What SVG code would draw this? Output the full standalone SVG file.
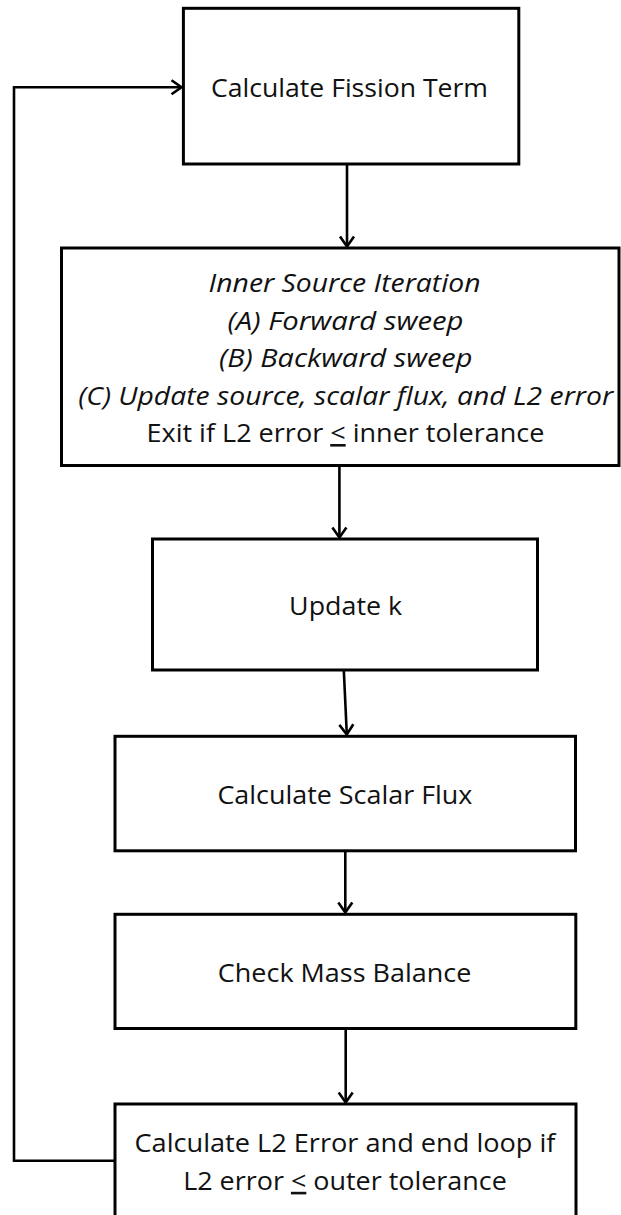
<svg xmlns="http://www.w3.org/2000/svg" width="621" height="1215" viewBox="0 0 621 1215">
  <style>
    .box { fill: #ffffff; stroke: #000000; stroke-width: 3; }
    .label { font-family: "Open Sans", "Noto Sans", sans-serif; font-size: 26px; fill: #111111; text-anchor: middle; }
    .it { font-style: italic; }
    .link { fill: none; stroke: #000000; stroke-width: 2.6; }
    .u { text-decoration: underline; }
  </style>
  <defs>
    <marker id="chevron" markerUnits="userSpaceOnUse" viewBox="0 0 14 18" markerWidth="14" markerHeight="18" refX="12" refY="9" orient="auto">
      <path d="M2,2 L12,9 L2,16" fill="none" stroke="#000000" stroke-width="2.6" stroke-linejoin="miter"/>
    </marker>
  </defs>

  <rect width="621" height="1215" fill="#ffffff"/>

  <!-- connectors -->
  <g id="connectors">
    <path class="link" d="M115,1160.7 H14 V87.3 H181.5" marker-end="url(#chevron)"/>
    <path class="link" d="M347,164 V246.5" marker-end="url(#chevron)"/>
    <path class="link" d="M339.4,465.5 V537.5" marker-end="url(#chevron)"/>
    <path class="link" d="M343.8,670 L346.8,734.5" marker-end="url(#chevron)"/>
    <path class="link" d="M345.3,851 V912.5" marker-end="url(#chevron)"/>
    <path class="link" d="M345.7,1029 V1102.5" marker-end="url(#chevron)"/>
  </g>

  <g id="fission">
    <rect class="box" x="183.4" y="8.3" width="335.4" height="155.7"/>
    <text class="label" x="349.5" y="96.8" textLength="277" lengthAdjust="spacingAndGlyphs">Calculate Fission Term</text>
  </g>

  <g id="inner-iteration">
    <rect class="box" x="61.5" y="248" width="557.5" height="217.5"/>
    <text class="label it" x="344.6" y="292.3" textLength="272" lengthAdjust="spacingAndGlyphs">Inner Source Iteration</text>
    <text class="label it" x="345.5" y="329.6" textLength="236" lengthAdjust="spacingAndGlyphs">(A) Forward sweep</text>
    <text class="label it" x="345.7" y="367" textLength="253.5" lengthAdjust="spacingAndGlyphs">(B) Backward sweep</text>
    <text class="label it" x="345.7" y="404.6" textLength="535" lengthAdjust="spacingAndGlyphs">(C) Update source, scalar flux, and L2 error</text>
    <text class="label" x="345.5" y="442" textLength="398" lengthAdjust="spacingAndGlyphs">Exit if L2 error <tspan class="u">&lt;</tspan> inner tolerance</text>
  </g>

  <g id="update-k">
    <rect class="box" x="152.5" y="539" width="385" height="131"/>
    <text class="label" x="345.6" y="615.3" textLength="113" lengthAdjust="spacingAndGlyphs">Update k</text>
  </g>

  <g id="scalar-flux">
    <rect class="box" x="115" y="736.3" width="460.5" height="114.5"/>
    <text class="label" x="344.9" y="803.6" textLength="255" lengthAdjust="spacingAndGlyphs">Calculate Scalar Flux</text>
  </g>

  <g id="mass-balance">
    <rect class="box" x="115" y="914.3" width="460.8" height="114.2"/>
    <text class="label" x="344.6" y="981.5" textLength="253.5" lengthAdjust="spacingAndGlyphs">Check Mass Balance</text>
  </g>

  <g id="l2-error">
    <rect class="box" x="115" y="1104" width="461" height="120"/>
    <text class="label" x="345" y="1152.3" textLength="421" lengthAdjust="spacingAndGlyphs">Calculate L2 Error and end loop if</text>
    <text class="label" x="345" y="1189.8" textLength="323.6" lengthAdjust="spacingAndGlyphs">L2 error <tspan class="u">&lt;</tspan> outer tolerance</text>
  </g>
</svg>
